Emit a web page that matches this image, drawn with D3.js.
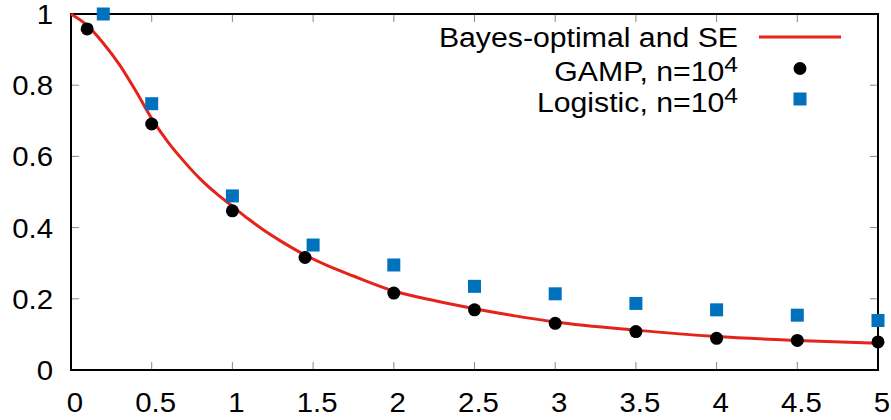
<!DOCTYPE html>
<html>
<head>
<meta charset="utf-8">
<script src="https://cdn.jsdelivr.net/npm/d3@7"></script>
<style>
  html, body { margin: 0; padding: 0; background: #fff; }
  svg { display: block; }
  text { font-family: "Liberation Sans", Arial, Helvetica, sans-serif; fill: #000; }
</style>
</head>
<body>
<svg id="chart" width="891" height="420"></svg>
<script>
// ---- data ----
const curveX = [0, 0.1, 0.2, 0.3, 0.4, 0.5, 0.6, 0.7, 0.8, 0.9, 1.0, 1.1, 1.2, 1.3, 1.45, 1.6, 1.75, 2.0, 2.25, 2.5, 2.75, 3.0, 3.5, 4.0, 4.5, 5.0];
const curveY = [1.0, 0.968, 0.918, 0.858, 0.785, 0.706, 0.641, 0.586, 0.537, 0.496, 0.46, 0.424, 0.391, 0.362, 0.323, 0.291, 0.264, 0.222, 0.195, 0.172, 0.152, 0.135, 0.112, 0.094, 0.083, 0.075];

const gampX = [0.1, 0.5, 1.0, 1.45, 2.0, 2.5, 3.0, 3.5, 4.0, 4.5, 5.0];
const gampY = [0.958, 0.691, 0.447, 0.316, 0.216, 0.169, 0.131, 0.108, 0.089, 0.083, 0.079];

const logX = [0.2, 0.5, 1.0, 1.5, 2.0, 2.5, 3.0, 3.5, 4.0, 4.5, 5.0];
const logY = [1.0, 0.748, 0.489, 0.351, 0.295, 0.235, 0.214, 0.187, 0.169, 0.154, 0.139];

const xTicks = [0, 0.5, 1, 1.5, 2, 2.5, 3, 3.5, 4, 4.5, 5];
const xTickLabels = ["0", "0.5", "1", "1.5", "2", "2.5", "3", "3.5", "4", "4.5", "5"];
const yTicks = [0, 0.2, 0.4, 0.6, 0.8, 1];
const yTickLabels = ["0", "0.2", "0.4", "0.6", "0.8", "1"];

const legendLabels = [
  {main: "Bayes-optimal and SE", sup: null},
  {main: "GAMP, n=10", sup: "4"},
  {main: "Logistic, n=10", sup: "4"}
];

// ---- layout ----
const svg = d3.select("#chart");
const L = 71, R = 878, T = 14, B = 370;
const x = d3.scaleLinear().domain([0, 5]).range([L, R]);
const y = d3.scaleLinear().domain([0, 1]).range([B, T]);

const RED = "#e5231b", BLUE = "#0072bd";

// ticks (inward, mirrored)
const tickLen = 8;
const g = svg.append("g");
xTicks.forEach(v => {
  g.append("line").attr("x1", x(v)).attr("x2", x(v)).attr("y1", B).attr("y2", B - tickLen)
    .attr("stroke", "#888").attr("stroke-width", 1);
  g.append("line").attr("x1", x(v)).attr("x2", x(v)).attr("y1", T).attr("y2", T + tickLen)
    .attr("stroke", "#888").attr("stroke-width", 1);
});
yTicks.forEach(v => {
  g.append("line").attr("x1", L).attr("x2", L + tickLen).attr("y1", y(v)).attr("y2", y(v))
    .attr("stroke", "#888").attr("stroke-width", 1);
  g.append("line").attr("x1", R).attr("x2", R - tickLen).attr("y1", y(v)).attr("y2", y(v))
    .attr("stroke", "#888").attr("stroke-width", 1);
});

// frame
svg.append("rect").attr("x", L).attr("y", T).attr("width", R - L).attr("height", B - T)
  .attr("fill", "none").attr("stroke", "#000").attr("stroke-width", 2);

// tick labels (slightly wide glyphs as in the reference)
const sx = 1.05;
svg.append("g").selectAll("text").data(xTicks).join("text")
  .attr("transform", d => `translate(${x(d) + 4},412) scale(${sx},1)`)
  .attr("text-anchor", "middle").attr("font-size", 28)
  .text((d, i) => xTickLabels[i]);

svg.append("g").selectAll("text").data(yTicks).join("text")
  .attr("transform", d => `translate(53,${y(d) + 10}) scale(${sx},1)`)
  .attr("text-anchor", "end").attr("font-size", 28)
  .text((d, i) => yTickLabels[i]);

// curve
const curveData = curveX.map((v, i) => [v, curveY[i]]);
svg.append("path").datum(curveData)
  .attr("fill", "none").attr("stroke", RED).attr("stroke-width", 3)
  .attr("d", d3.line().x(d => x(d[0])).y(d => y(d[1])).curve(d3.curveMonotoneX));

// logistic squares
const sq = 13;
svg.append("g").selectAll("rect").data(logX.map((v, i) => [v, logY[i]])).join("rect")
  .attr("x", d => x(d[0]) - sq / 2).attr("y", d => y(d[1]) - sq / 2)
  .attr("width", sq).attr("height", sq).attr("fill", BLUE);

// GAMP circles
svg.append("g").selectAll("circle").data(gampX.map((v, i) => [v, gampY[i]])).join("circle")
  .attr("cx", d => x(d[0])).attr("cy", d => y(d[1])).attr("r", 6.5).attr("fill", "#000");

// legend
const legBase = [47, 81, 112];
const legText = svg.append("g");
legendLabels.forEach((lab, i) => {
  const t = legText.append("text")
    .attr("transform", `translate(738,${legBase[i]}) scale(1.12,1)`)
    .attr("text-anchor", "end").attr("font-size", 27);
  t.append("tspan").text(lab.main);
  if (lab.sup) {
    t.append("tspan").attr("font-size", 22).attr("dy", -9).text(lab.sup);
  }
});
svg.append("line").attr("x1", 759).attr("x2", 841).attr("y1", 37).attr("y2", 37)
  .attr("stroke", RED).attr("stroke-width", 3);
svg.append("circle").attr("cx", 800).attr("cy", 68.5).attr("r", 6.5).attr("fill", "#000");
svg.append("rect").attr("x", 800 - sq / 2).attr("y", 99 - sq / 2).attr("width", sq).attr("height", sq).attr("fill", BLUE);
</script>
</body>
</html>
